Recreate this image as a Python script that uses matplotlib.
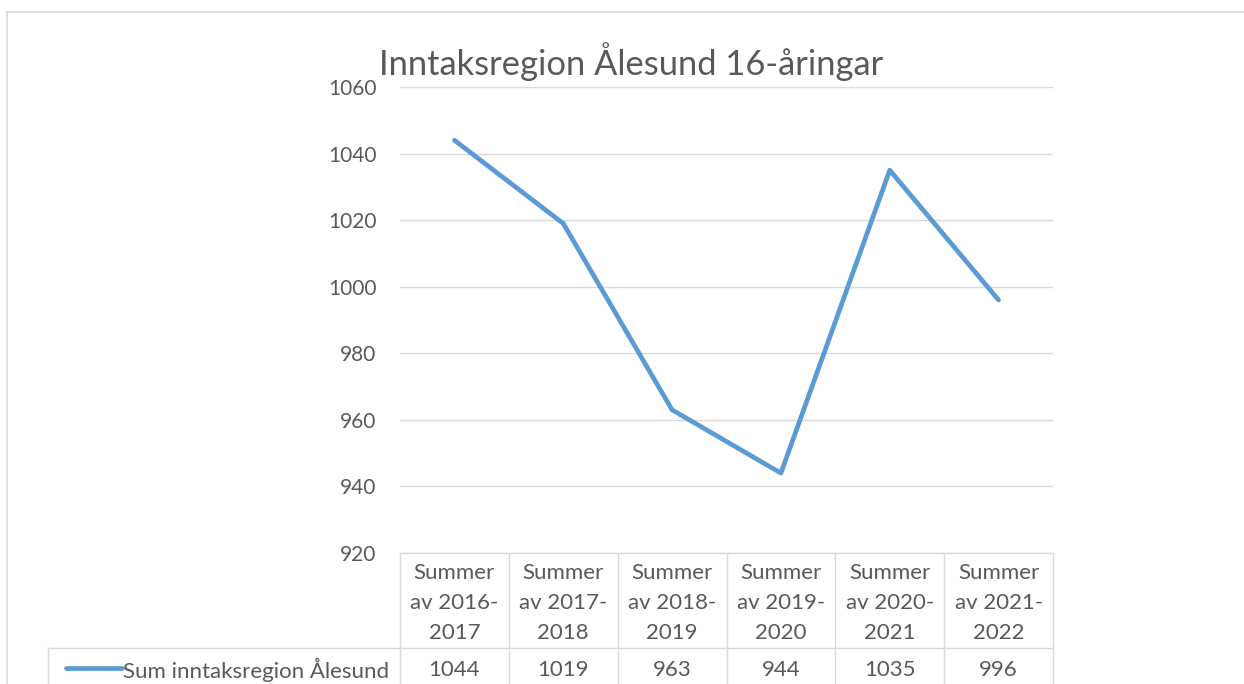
import matplotlib
matplotlib.use("Agg")
import matplotlib.pyplot as plt
import matplotlib.transforms as mtransforms

plt.rcParams["font.family"] = ["Lato", "DejaVu Sans"]

categories = ["Summer\nav 2016-\n2017", "Summer\nav 2017-\n2018", "Summer\nav 2018-\n2019",
              "Summer\nav 2019-\n2020", "Summer\nav 2020-\n2021", "Summer\nav 2021-\n2022"]
values = [1044, 1019, 963, 944, 1035, 996]
series_name = "Sum inntaksregion Ålesund"
y_ticks = [920, 940, 960, 980, 1000, 1020, 1040, 1060]

TEXT = "#595959"
GRID = "#d9d9d9"
LINE = "#5B9BD5"

W, H = 1244, 684
fig = plt.figure(figsize=(W / 100, H / 100), dpi=100)

# outer chart border (only top/left visible in the crop)
fig.add_artist(plt.Line2D([7 / W, 7 / W], [0, 1 - 12 / H], color=GRID, lw=1.2))
fig.add_artist(plt.Line2D([7 / W, 1], [1 - 12 / H, 1 - 12 / H], color=GRID, lw=1.2))

left, right, top, bottom = 400, 1053, 87, 553
ax = fig.add_axes([left / W, 1 - bottom / H, (right - left) / W, (bottom - top) / H])
n = len(values)
xs = list(range(n))
ax.plot(xs, values, color=LINE, lw=3.4, solid_capstyle="round", solid_joinstyle="round")
ax.set_xlim(-0.5, n - 0.5)
ax.set_ylim(y_ticks[0], y_ticks[-1])
ax.set_yticks(y_ticks)
ax.set_xticks([])
ax.tick_params(axis="y", length=0, pad=17, labelsize=15, labelcolor=TEXT)
for s in ax.spines.values():
    s.set_visible(False)
ax.grid(axis="y", color=GRID, lw=1.0)
ax.set_axisbelow(True)

# data table under the plot
px = 1.0 / (bottom - top)  # one pixel in axes-y units
row1 = -(648 - bottom) * px
row2 = -(H - bottom + 5) * px
legx = (48 - left) / (right - left)
blend = mtransforms.blended_transform_factory(ax.transData, ax.transAxes)
kw = dict(color=GRID, lw=1.0, clip_on=False)
ax.plot([-0.5, n - 0.5], [0, 0], transform=blend, **kw)
for i in range(n + 1):
    ax.plot([i - 0.5, i - 0.5], [0, row2], transform=blend, **kw)
ax.plot([legx, 1], [row1, row1], transform=ax.transAxes, **kw)
ax.plot([legx, legx], [row1, row2], transform=ax.transAxes, **kw)

FS = 16
for i, (c, v) in enumerate(zip(categories, values)):
    for j, line in enumerate(c.split("\n")):
        ax.text(i, -(573 - bottom + 30 * j) * px, line, transform=blend, ha="center",
                va="center", fontsize=FS, color=TEXT)
    ax.text(i, -(670 - bottom) * px, str(v), transform=blend, ha="center",
            va="center", fontsize=FS, color=TEXT)

ly = -(668 - bottom) * px
ax.plot([(66 - left) / (right - left), (122 - left) / (right - left)], [ly, ly],
        transform=ax.transAxes, color=LINE, lw=3.4, solid_capstyle="round", clip_on=False)
ax.text((123 - left) / (right - left), -(670 - bottom) * px, series_name,
        transform=ax.transAxes, ha="left", va="center", fontsize=FS, color=TEXT)

fig.text(631 / W, 1 - 62 / H, "Inntaksregion Ålesund 16-åringar", ha="center",
         va="center", fontsize=24.8, color=TEXT)

fig.savefig("out.png", dpi=100, facecolor="white")
